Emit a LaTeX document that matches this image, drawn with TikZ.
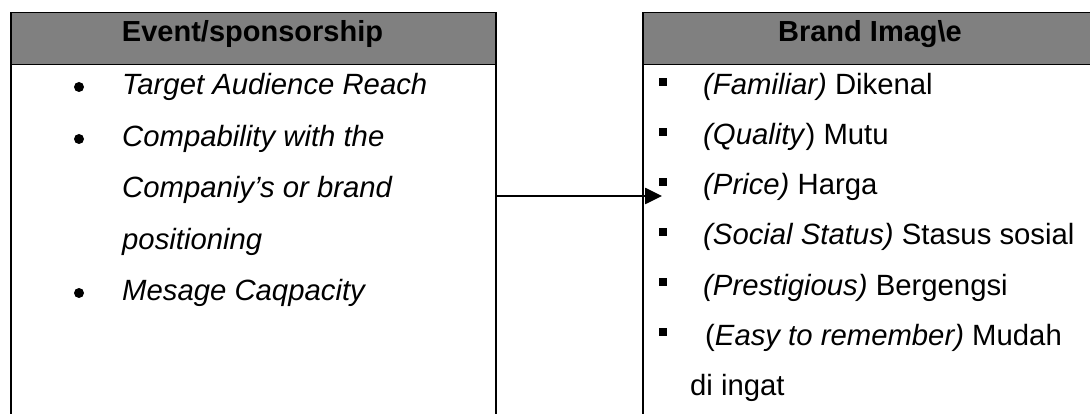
\documentclass[tikz,border=0pt]{standalone}
\usepackage{fontspec}
\setmainfont{Liberation Sans}
\usetikzlibrary{arrows.meta}
\definecolor{hdrgray}{HTML}{808080}
\begin{document}
\begin{tikzpicture}[x=1pt,y=-1pt,
  hdr/.style={draw=black, line width=1.5pt, fill=hdrgray, inner sep=0pt},
  bodybox/.style={draw=black, line width=1.5pt, inner sep=0pt},
  htext/.style={anchor=base, inner sep=0pt, font=\bfseries\fontsize{29}{34}\selectfont},
  item/.style={anchor=base west, inner sep=0pt, font=\fontsize{29.3}{34}\selectfont},
  dotb/.style={circle, fill=black, minimum size=10pt, inner sep=0pt},
  sqb/.style={rectangle, fill=black, minimum size=8pt, inner sep=0pt},
  link/.style={line width=2.6pt, -{Triangle[length=17pt,width=16pt]}}
]
\useasboundingbox (0,0) rectangle (1090,414);
% left box
\node[hdr, minimum width=485pt, minimum height=52pt, anchor=north west] (lh) at (10,12) {};
\node[bodybox, minimum width=485pt, minimum height=370pt, anchor=north west] (lb) at (10,64) {};
\node[htext] (lht) at (252.5,42) {Event/sponsorship};
% right box
\node[hdr, minimum width=456pt, minimum height=52pt, anchor=north west] (rh) at (642,12) {};
\node[bodybox, minimum width=456pt, minimum height=370pt, anchor=north west] (rb) at (642,64) {};
\node[htext] (rht) at (870,42) {Brand Imag\textbackslash e};
% left items
\node[dotb] (d1) at (79,87) {};
\node[item] (l1) at (122,95) {\itshape Target Audience Reach};
\node[dotb] (d2) at (79,139) {};
\node[item] (l2) at (122,146.5) {\itshape Compability with the};
\node[item] (l3) at (122,198) {\itshape Companiy’s or brand};
\node[item] (l4) at (122,249.5) {\itshape positioning};
\node[dotb] (d3) at (79,293) {};
\node[item] (l5) at (122,301) {\itshape Mesage Caqpacity};
% right items
\node[sqb] (s1) at (663,82) {};
\node[item] (r1) at (703,95) {\textit{(Familiar)} Dikenal};
\node[sqb] (s2) at (663,132) {};
\node[item] (r2) at (703,145) {\textit{(Quality}) Mutu};
\node[sqb] (s3) at (663,182) {};
\node[item] (r3) at (703,195) {\textit{(Price)} Harga};
\node[sqb] (s4) at (663,232) {};
\node[item] (r4) at (703,245) {\textit{(Social Status)} Stasus sosial};
\node[sqb] (s5) at (663,282) {};
\node[item] (r5) at (703,295) {\textit{(Prestigious)} Bergengsi};
\node[sqb] (s6) at (663,332) {};
\node[item] (r6) at (705,345) {(\textit{Easy to remember)} Mudah};
\node[item] (r7) at (690,395) {di ingat};
% connector
\coordinate (tip) at (662,196);
\draw[link] (lb.east |- tip) -- (tip);
\end{tikzpicture}
\end{document}
